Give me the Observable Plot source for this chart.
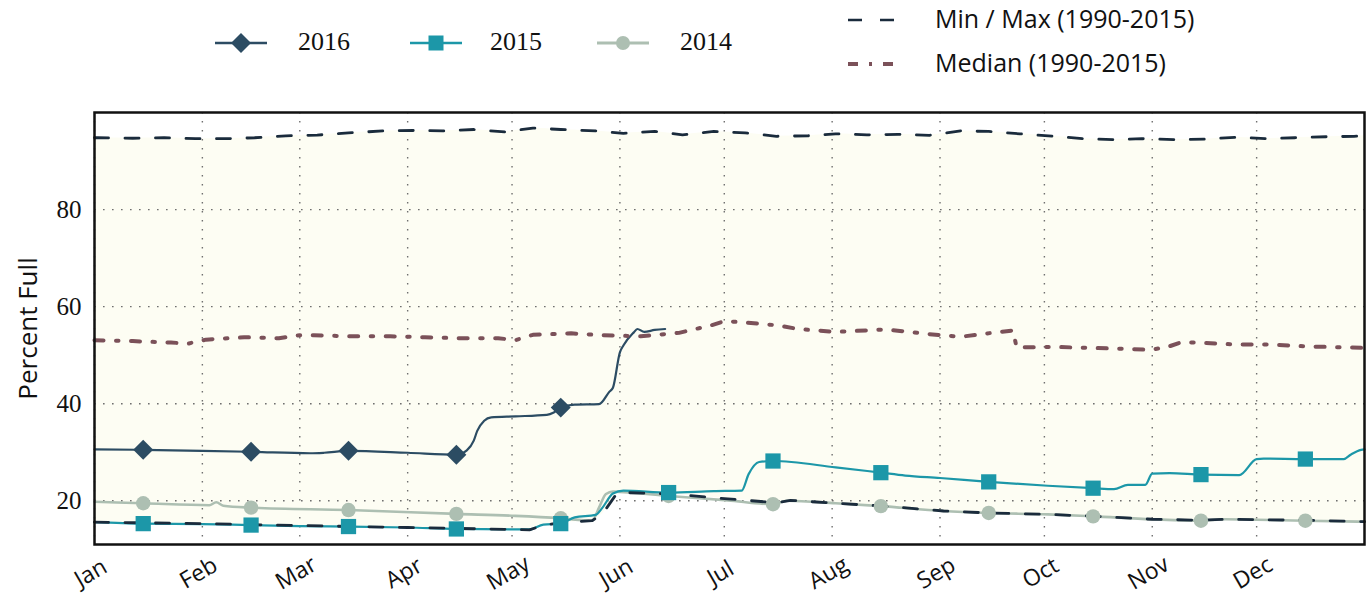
<!DOCTYPE html>
<html><head><meta charset="utf-8">
<script src="https://cdn.jsdelivr.net/npm/d3@7"></script>
<script src="https://cdn.jsdelivr.net/npm/@observablehq/plot@0.6"></script>
<style>
body{margin:0;background:#fff;font-family:"Open Sans",sans-serif;color:#111;}
#legend{position:relative;width:1367px;height:95px;}
#legend .it{position:absolute;white-space:nowrap;line-height:1;}
#legend svg{position:absolute;overflow:visible;}
</style></head><body>
<div id="legend"></div>
<div id="chart"></div>
<script>
const year = 2015;
const months = ["Jan","Feb","Mar","Apr","May","Jun","Jul","Aug","Sep","Oct","Nov","Dec"];
const yTicks = [20, 40, 60, 80];
const markerDays = [14, 45, 73, 104, 134, 165, 195, 226, 257, 287, 318, 348];
const seriesNames = ["2016", "2015", "2014"];
const refNames = ["Min / Max (1990-2015)", "Median (1990-2015)"];

const maxDays = [0,1,11,20,29,38,46,55,64,73,83,92,100,109,118,126,134,144,152,161,169,178,187,196,205,213,222,231,240,249,257,266,276,284,293,301,311,319,328,337,345,354,362,365];
const maxVals = [94.8,94.8,94.7,94.8,94.6,94.6,94.8,95.2,95.35,95.8,96.2,96.3,96.2,96.5,96.0,96.8,96.5,96.2,95.7,96.1,95.4,96.1,95.8,95.1,95.2,95.6,95.4,95.5,95.3,96.2,96.1,95.6,95.1,94.6,94.4,94.6,94.4,94.5,94.9,94.6,94.8,95.0,95.1,95.2];

const minDays = [0,31,59,90,120,125,129,134,143,146,150,152,166,182,196,200,213,227,244,257,274,288,304,318,325,334,348,365];
const minVals = [15.6,15.3,14.9,14.5,14.1,14.0,15.0,15.5,15.9,17.3,21.4,21.7,21.4,20.4,19.6,20.1,19.5,18.9,17.9,17.5,17.2,16.8,16.2,16.0,16.2,16.1,16.0,15.7];

const medDays = [0,11,22,27,32,43,53,59,63,74,85,95,105,116,121,126,137,146,157,168,177,181,186,197,202,213,227,233,239,249,259,264,265,276,286,297,303,308,312,317,328,338,349,360,365];
const medVals = [53.1,52.9,52.6,52.4,53.2,53.7,53.5,54.1,54.1,53.9,53.9,53.7,53.5,53.5,53.1,54.2,54.5,54.1,53.9,54.6,56.1,57.0,56.8,56.1,55.4,54.8,55.3,54.9,54.4,53.8,54.7,55.1,51.6,51.7,51.5,51.3,51.1,51.6,52.6,52.6,52.2,52.2,51.8,51.6,51.5];

const d2016 = [0,14,31,45,62,66,73,90,104,107,109,110,112,114,121,130,132,134,138,145,148,149,151,152,155,156,158,161,164];
const v2016 = [30.6,30.5,30.3,30.1,29.8,29.9,30.3,29.9,29.5,30.4,32.4,34.4,36.5,37.2,37.4,37.7,38.2,39.2,39.8,39.9,42.5,43.3,50.6,52.0,54.7,55.4,54.8,55.2,55.4];

const d2015 = [0,14,31,45,59,73,90,104,120,125,129,134,138,144,146,149,152,165,178,186,188,191,195,213,226,233,243,257,274,287,293,297,302,304,309,318,329,334,336,348,359,361,364,365];
const v2015 = [15.6,15.3,15.2,15.0,14.8,14.7,14.5,14.2,14.1,14.1,15.1,15.3,16.6,17.1,18.6,21.5,22.1,21.7,22.0,22.1,25.5,28.0,28.2,26.9,25.8,25.2,24.7,23.9,23.1,22.6,22.4,23.3,23.3,25.6,25.7,25.4,25.3,28.6,28.7,28.6,28.6,29.5,30.5,30.6];

const d2014 = [0,14,33,35,37,45,73,104,121,134,143,145,147,149,165,182,195,199,213,226,244,257,274,287,304,318,325,334,348,365];
const v2014 = [19.8,19.5,19.1,19.7,19.0,18.6,18.1,17.3,16.9,16.4,15.9,18.6,21.4,21.9,21.0,20.1,19.3,20.0,19.5,18.9,17.9,17.5,17.2,16.8,16.2,15.9,16.2,16.1,15.9,15.7];

const C16 = "#2c4c63", C15 = "#1c97a8", C14 = "#adbfb2", CMM = "#1a2b3c", CMED = "#7b5159";

const toDate = d => new Date(Date.UTC(year, 0, 1 + d));
const rows = (days, vals) => days.map((d, i) => ({date: toDate(d), day: d, value: vals[i]}));
const maxRows = rows(maxDays, maxVals), minRows = rows(minDays, minVals), medRows = rows(medDays, medVals);
const r16 = rows(d2016, v2016), r15 = rows(d2015, v2015), r14 = rows(d2014, v2014);
const marks = r => r.filter(o => markerDays.includes(o.day));
const monthStarts = months.map((m, i) => new Date(Date.UTC(year, i, 1)));
const y0 = 11;

const chart = Plot.plot({
  width: 1367, height: 501,
  marginTop: 17, marginBottom: 52, marginLeft: 94, marginRight: 3,
  x: {type: "utc", domain: [toDate(0), toDate(365)], axis: null},
  y: {domain: [y0, 100]},
  style: {fontFamily: "'Open Sans', sans-serif", background: "transparent", overflow: "visible", color: "#111"},
  marks: [
    Plot.areaY(maxRows, {x: "date", y1: y0, y2: "value", fill: "#fdfdf3"}),
    Plot.areaY(minRows, {x: "date", y1: y0, y2: "value", fill: "#ffffff"}),
    Plot.gridX(monthStarts, {stroke: "#6f6f6f", strokeOpacity: 1, strokeWidth: 1.4, strokeDasharray: "1.6,7.4"}),
    Plot.gridY(yTicks, {stroke: "#6f6f6f", strokeOpacity: 1, strokeWidth: 1.4, strokeDasharray: "1.6,7.4"}),
    Plot.line(r14, {x: "date", y: "value", stroke: C14, strokeWidth: 2.6, curve: "monotone-x"}),
    Plot.line(r15, {x: "date", y: "value", stroke: C15, strokeWidth: 2.2, curve: "monotone-x"}),
    Plot.line(r16, {x: "date", y: "value", stroke: C16, strokeWidth: 2.2, curve: "monotone-x"}),
    Plot.line(maxRows, {x: "date", y: "value", stroke: CMM, strokeWidth: 2.8, strokeDasharray: "14,16.5"}),
    Plot.line(minRows, {x: "date", y: "value", stroke: CMM, strokeWidth: 2.8, strokeDasharray: "14,16.5"}),
    Plot.line(medRows, {x: "date", y: "value", stroke: CMED, strokeWidth: 4, strokeDasharray: "9,12.5,2.5,12.5"}),
    Plot.dot(marks(r14), {x: "date", y: "value", r: 7.2, fill: C14}),
    Plot.dot(marks(r15), {x: "date", y: "value", symbol: "square", r: 8.6, fill: C15}),
    Plot.dot(marks(r16), {x: "date", y: "value", symbol: "diamond2", r: 9, fill: C16}),
    Plot.axisY(yTicks, {tickSize: 0, tickPadding: 13, fontSize: 25, fontFamily: "'Liberation Serif', serif", fill: "#111", label: null}),
    Plot.text(monthStarts, {x: d => d, text: (d, i) => months[i], frameAnchor: "bottom", dy: 35, rotate: -30, fontSize: 23, textAnchor: "middle", fill: "#111"}),
    Plot.text(["Percent Full"], {frameAnchor: "left", dx: -66, rotate: -90, fontSize: 26, textAnchor: "middle", fill: "#111"}),
    Plot.frame({stroke: "#111", strokeWidth: 2.5})
  ]
});
document.getElementById("chart").appendChild(chart);

// Legend
const lg = document.getElementById("legend");
const ns = "http://www.w3.org/2000/svg";
function sample(x, y, w, build) {
  const s = document.createElementNS(ns, "svg");
  s.setAttribute("width", w); s.setAttribute("height", 20);
  s.style.left = x + "px"; s.style.top = (y - 10) + "px";
  s.innerHTML = build;
  lg.appendChild(s);
}
function label(text, x, y, size, fam) {
  const d = document.createElement("div");
  d.className = "it"; d.textContent = text;
  d.style.left = x + "px"; d.style.top = (y - size * 0.55) + "px";
  d.style.fontSize = size + "px"; d.style.fontFamily = fam;
  lg.appendChild(d);
}
const serif = "'Liberation Serif', serif", sans = "'Open Sans', sans-serif";
sample(215, 43, 52, `<line x1="0" y1="10" x2="52" y2="10" stroke="${C16}" stroke-width="2.5"/><path d="M26,0 L36,10 L26,20 L16,10 Z" fill="${C16}"/>`);
label(seriesNames[0], 298, 43, 26, serif);
sample(410, 43, 52, `<line x1="0" y1="10" x2="52" y2="10" stroke="${C15}" stroke-width="2.5"/><rect x="18.5" y="2.5" width="15" height="15" fill="${C15}"/>`);
label(seriesNames[1], 490, 43, 26, serif);
sample(597, 43, 52, `<line x1="0" y1="10" x2="52" y2="10" stroke="${C14}" stroke-width="2.8"/><circle cx="26" cy="10" r="7" fill="${C14}"/>`);
label(seriesNames[2], 680, 43, 26, serif);
sample(848, 20, 48, `<line x1="0" y1="10" x2="48" y2="10" stroke="${CMM}" stroke-width="2.6" stroke-dasharray="14,18"/>`);
label(refNames[0], 935, 20, 25, sans);
sample(848, 64, 48, `<line x1="0" y1="10" x2="48" y2="10" stroke="${CMED}" stroke-width="4" stroke-dasharray="10,11,3,11"/>`);
label(refNames[1], 935, 64, 25, sans);
</script>
</body></html>
